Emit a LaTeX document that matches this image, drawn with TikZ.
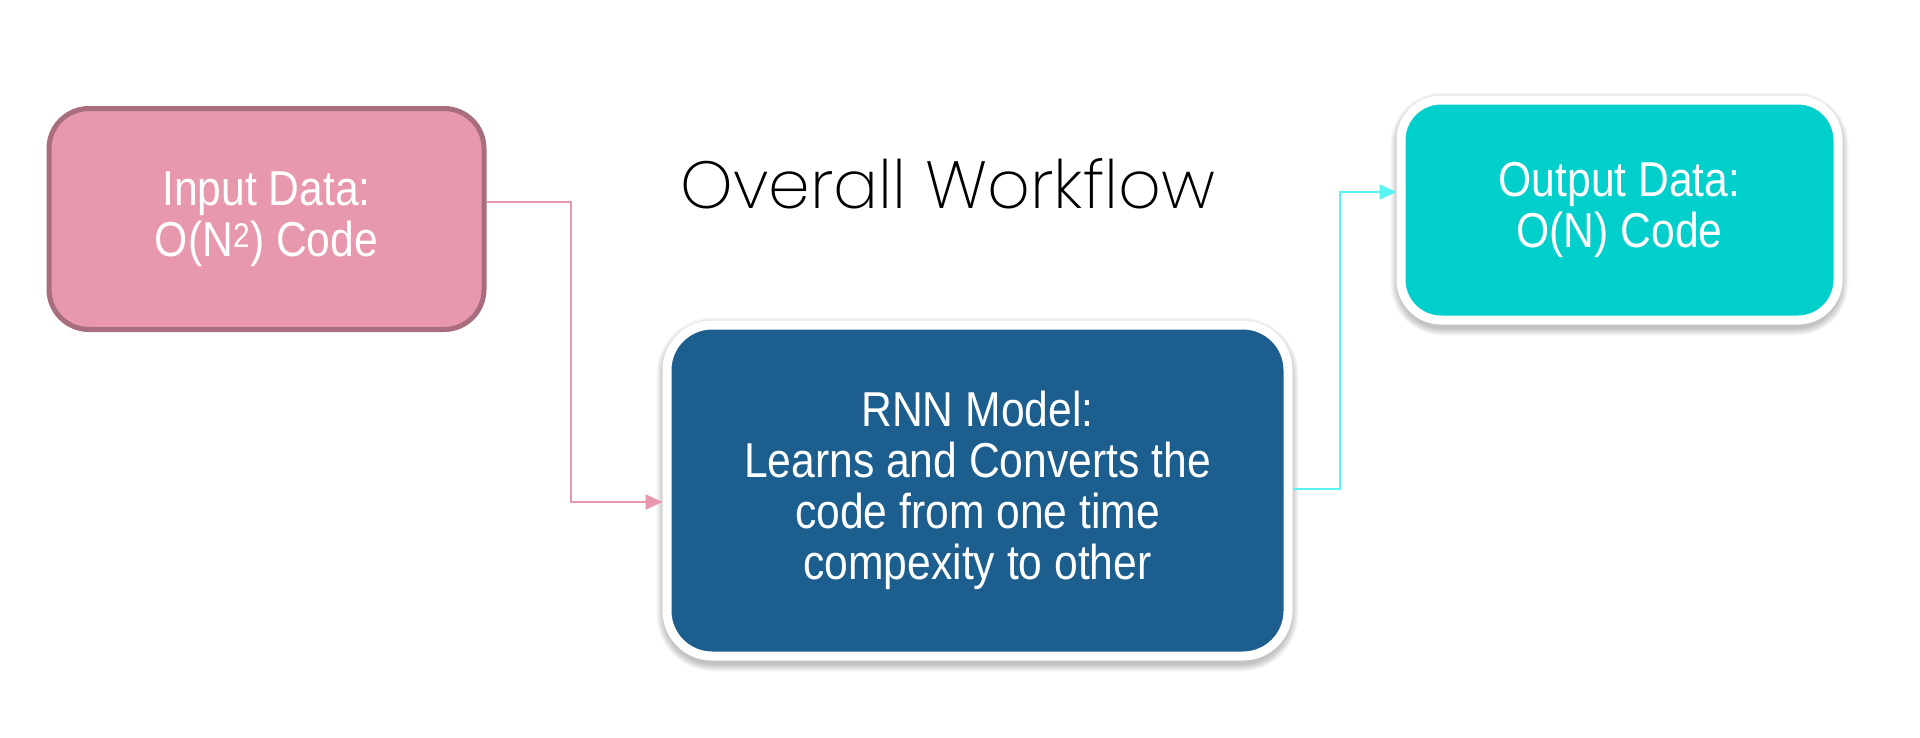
\documentclass[tikz,border=0pt]{standalone}
\usepackage{fontspec}
\setmainfont{Liberation Sans}
\newfontfamily\boxfont{Liberation Sans}[FakeStretch=0.87]
\newfontfamily\titlefont{Poppins ExtraLight}
\usetikzlibrary{arrows.meta,backgrounds}
\definecolor{inFill}{HTML}{E898AC}
\definecolor{inLine}{HTML}{A86E7E}
\definecolor{rnnFill}{HTML}{1C5E8E}
\definecolor{outFill}{HTML}{00CFCB}
\definecolor{pinkLine}{HTML}{E898AC}
\definecolor{cyanLine}{HTML}{5CF3F5}
\tikzset{
  box/.style={rectangle, align=center, text=white, font=\boxfont\fontsize{49}{51}\selectfont},
  pinkarrow/.style={draw=pinkLine, line width=2pt, -{Triangle[length=17pt,width=15pt]}},
  cyanarrow/.style={draw=cyanLine, line width=2pt, -{Triangle[length=17pt,width=15pt]}},
  shadowlayer/.style={fill=black, opacity=0.03},
}
\newcommand{\softshadow}[2]{%
  \foreach \k in {0,1,...,7}{%
    \fill[shadowlayer, rounded corners={#2+\k*1pt}]
      ([xshift=-\k*1pt+1pt, yshift=-4pt-\k*1pt]#1.south west) rectangle
      ([xshift=\k*1pt-1pt, yshift=-4pt+\k*1pt]#1.north east);
  }%
}
\begin{document}
\begin{tikzpicture}[x=1pt,y=-1pt]
\path[use as bounding box] (0,0) rectangle (1920,737);
% boxes
\node[box, fill=inFill, draw=inLine, line width=5pt, rounded corners=40pt,
      minimum width=435pt, minimum height=221pt] (in) at (266.5,219)
      {Input Data:\\O(N\textsuperscript{2}) Code};
\node[box, fill=rnnFill, draw=white, line width=9pt, rounded corners=45pt,
      minimum width=621pt, minimum height=331pt] (rnn) at (977.5,490.5)
      {RNN Model:\\Learns and Converts the\\code from one time\\compexity to other};
\node[box, fill=outFill, draw=white, line width=9pt, rounded corners=40pt,
      minimum width=437pt, minimum height=220pt] (out) at (1619.5,210)
      {Output Data:\\O(N) Code};
\begin{pgfonlayer}{background}
  \fill[white] (0,0) rectangle (1920,737);
  \softshadow{rnn}{50pt}
  \softshadow{out}{45pt}
\end{pgfonlayer}
% title
\node (title) at (948,184) {\resizebox{535pt}{!}{\titlefont Overall Workflow}};
% connectors
\draw[pinkarrow] ([yshift=17pt]in.east) -| (571,502) -- ([yshift=-11.5pt]rnn.west);
\draw[cyanarrow] ([yshift=1.5pt]rnn.east) -| (1340,192) -- ([yshift=18pt]out.west);
\end{tikzpicture}
\end{document}
